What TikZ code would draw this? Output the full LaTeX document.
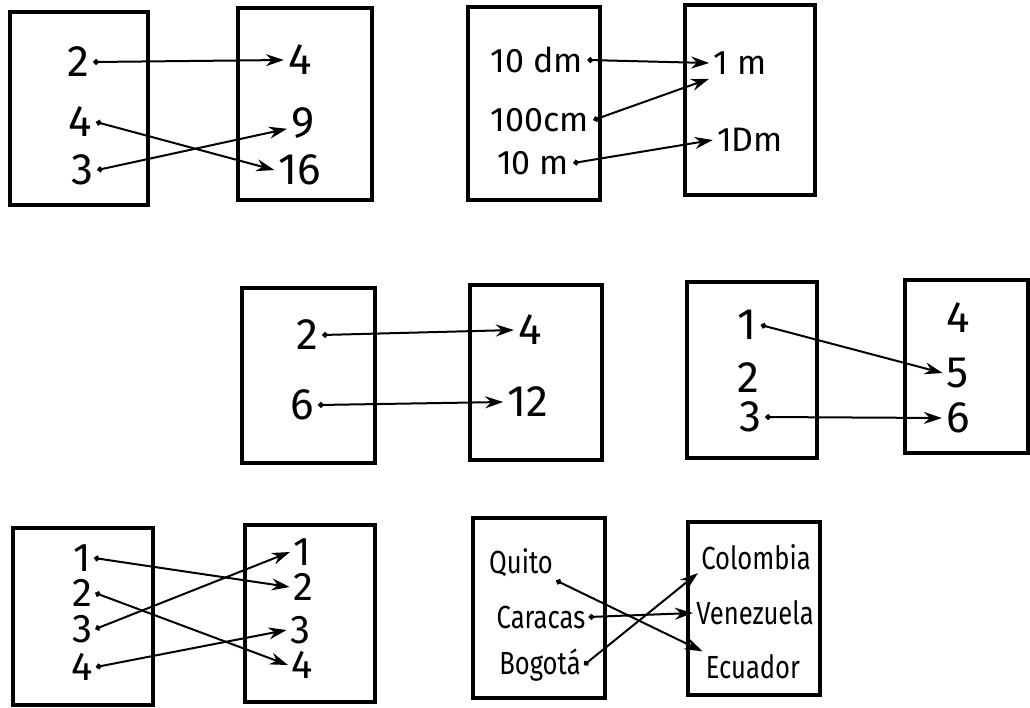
\documentclass[tikz,border=0pt]{standalone}
\usepackage{fontspec}
\setmainfont{Fira Sans}
\newfontfamily\namefont[FakeStretch=0.8]{Fira Sans}
\usetikzlibrary{arrows.meta,fit}

\begin{document}
\begin{tikzpicture}[x=0.5pt,y=-0.5pt,
  box/.style={draw, line width=1.8pt, inner sep=0pt},
  num/.style={font=\fontsize{22}{24}\selectfont, inner sep=2pt},
  numtight/.style={font=\fontsize{20}{22}\selectfont, inner sep=1.5pt},
  unit/.style={font=\fontsize{17}{20}\selectfont, inner sep=2pt},
  city/.style={font=\namefont\fontsize{16}{18}\selectfont, inner sep=1.5pt},
  link/.style={line width=1pt, {Circle[length=2.8pt]}-{Stealth[length=9pt,width=6pt]}},
]
\useasboundingbox (0,0) rectangle (1030,708);

% ---- squares: 2 -> 4, 3 -> 9, 4 -> 16
\node[box, fit={(10,12)(148,205)}] (A1) {};
\node[box, fit={(238,8)(372,200)}] (A2) {};
\node[num] (a2) at (78,62) {2};
\node[num] (a4) at (80,122) {4};
\node[num] (a3) at (82,170) {3};
\node[num] (b4) at (300,60) {4};
\node[num] (b9) at (303,123) {9};
\node[num] (b16) at (300,170) {16};
\draw[link] (a2.east) -- (b4.west);
\draw[link] (a4.east) -- (b16.west);
\draw[link] (a3.east) -- (b9.200);

% ---- lengths
\node[box, fit={(468,7)(600,200)}] (B1) {};
\node[box, fit={(685,5)(815,195)}] (B2) {};
\node[unit] (u10dm) at (537,60) {10 dm};
\node[unit] (u100cm) at (540,120) {100cm};
\node[unit] (u10m) at (533,163) {10 m};
\node[unit] (u1m) at (740,63) {1 m};
\node[unit] (u1Dm) at (750,140) {1Dm};
\draw[link] (u10dm.east) -- (u1m.west);
\draw[link] (u100cm.east) -- (u1m.south west);
\draw[link] (u10m.east) -- (u1Dm.west);

% ---- doubling
\node[box, fit={(242,288)(375,463)}] (C1) {};
\node[box, fit={(470,285)(602,460)}] (C2) {};
\node[num] (c2) at (307,335) {2};
\node[num] (c6) at (302,405) {6};
\node[num] (d4) at (530,330) {4};
\node[num] (d12) at (528,402) {12};
\draw[link] (c2.east) -- (d4.west);
\draw[link] (c6.east) -- (d12.west);

% ---- adding three
\node[box, fit={(687,282)(817,458)}] (D1) {};
\node[box, fit={(905,280)(1028,453)}] (D2) {};
\node[num] (e1) at (747,325) {1};
\node[num] (e2) at (748,378) {2};
\node[num] (e3) at (750,417) {3};
\node[num] (f4) at (958,318) {4};
\node[num] (f5) at (958,373) {5};
\node[num] (f6) at (958,418) {6};
\draw[link] (e1.east) -- (f5.west);
\draw[link] (e3.east) -- (f6.west);

% ---- permutation
\node[box, fit={(13,528)(153,705)}] (E1) {};
\node[box, fit={(245,525)(375,702)}] (E2) {};
\node[numtight] (g1) at (82,558) {1};
\node[numtight] (g2) at (82,593) {2};
\node[numtight] (g3) at (82,629) {3};
\node[numtight] (g4) at (82,667) {4};
\node[numtight] (h1) at (302,552) {1};
\node[numtight] (h2) at (303,587) {2};
\node[numtight] (h3) at (300,630) {3};
\node[numtight] (h4) at (302,665) {4};
\draw[link] (g1.east) -- (h2.west);
\draw[link] (g2.east) -- (h4.west);
\draw[link] (g3.east) -- (h1.west);
\draw[link] (g4.east) -- (h3.west);

% ---- capitals
\node[box, fit={(473,518)(605,698)}] (F1) {};
\node[box, fit={(688,522)(820,695)}] (F2) {};
\node[city] (quito) at (521,563) {Quito};
\node[city] (caracas) at (541,617) {Caracas};
\node[city] (bogota) at (540,665) {Bogotá};
\node[city] (colombia) at (756,557) {Colombia};
\node[city] (venezuela) at (755,613) {Venezuela};
\node[city] (ecuador) at (753,667) {Ecuador};
\draw[link] (quito.south east) -- (ecuador.north west);
\draw[link] (caracas.east) -- (venezuela.west);
\draw[link] (bogota.east) -- (colombia.south west);
\end{tikzpicture}
\end{document}
